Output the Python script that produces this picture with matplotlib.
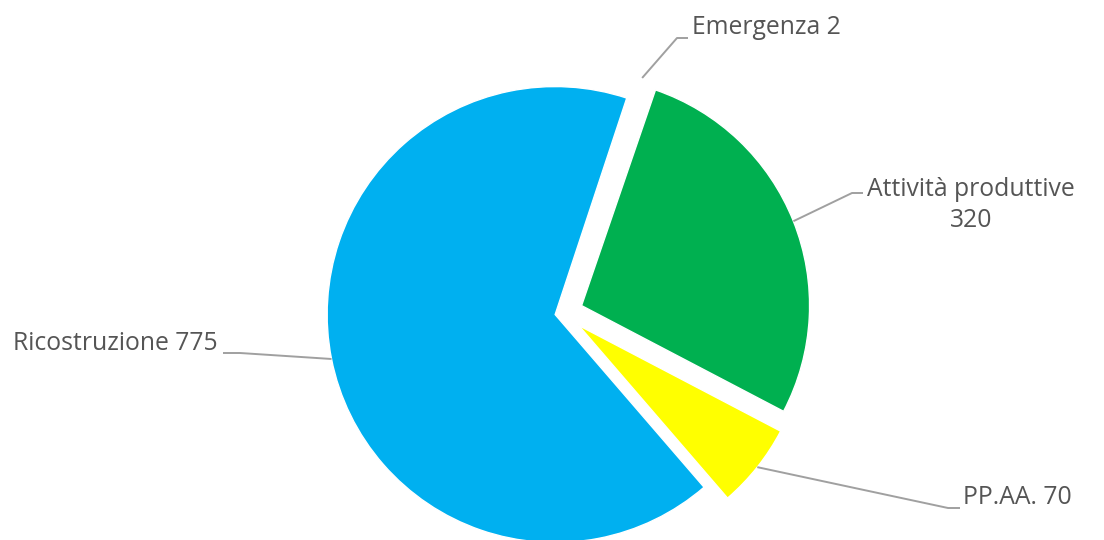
import numpy as np
import matplotlib
matplotlib.use("Agg")
import matplotlib.pyplot as plt

# ==== data ====
labels = ["Emergenza", "Attività produttive", "PP.AA.", "Ricostruzione"]
values = [2, 320, 70, 775]
colors = ["#FFFFFF", "#00B050", "#FFFF00", "#00B0F0"]
explode_px = [20, 20, 20, 8]

# label layout (pixel coords, y down) : text anchor, elbow, line end
label_text = ["Emergenza 2", "Attività produttive\n320", "PP.AA. 70", "Ricostruzione 775"]
text_xy = [(692, 27), (971, 205), (963, 497), (218, 343)]
text_ha = ["left", "center", "left", "right"]
elbow_xy = [(677, 38), (852, 193), (948, 508), (240, 353)]
end_xy = [(688, 38), (863, 193), (960, 508), (223, 353)]

W, H = 1104, 540
cx, cy = 563, 313
R = 228
start = 71.7

plt.rcParams['font.family'] = ['Open Sans', 'DejaVu Sans']

fig = plt.figure(figsize=(W / 100, H / 100), dpi=100)
ax = fig.add_axes([0, 0, 1, 1])

ax.pie(values, colors=colors, startangle=start, counterclock=False,
       radius=R, center=(cx, H - cy), explode=explode_px,
       wedgeprops=dict(edgecolor="white", linewidth=1))

ax.set_xlim(0, W)
ax.set_ylim(0, H)
ax.set_aspect("equal")
ax.axis("off")

# leader lines from the wedge mid-angles
fracs = np.array(values) / sum(values)
theta = start
for i, f in enumerate(fracs):
    mid = np.deg2rad(theta - f * 360 / 2)
    theta -= f * 360
    rr = R + explode_px[i]
    x0 = cx + rr * np.cos(mid)
    y0 = (H - cy) + rr * np.sin(mid)
    ex, ey = elbow_xy[i]
    nx, ny = end_xy[i]
    ax.plot([x0, ex, nx], [y0, H - ey, H - ny], color="#A0A0A0", lw=1.4,
            solid_capstyle="butt")
    tx, ty = text_xy[i]
    ax.text(tx, H - ty, label_text[i], ha=text_ha[i], va="center",
            fontsize=17.8, color="#555555", linespacing=1.3)

fig.savefig("out.png", dpi=100)
